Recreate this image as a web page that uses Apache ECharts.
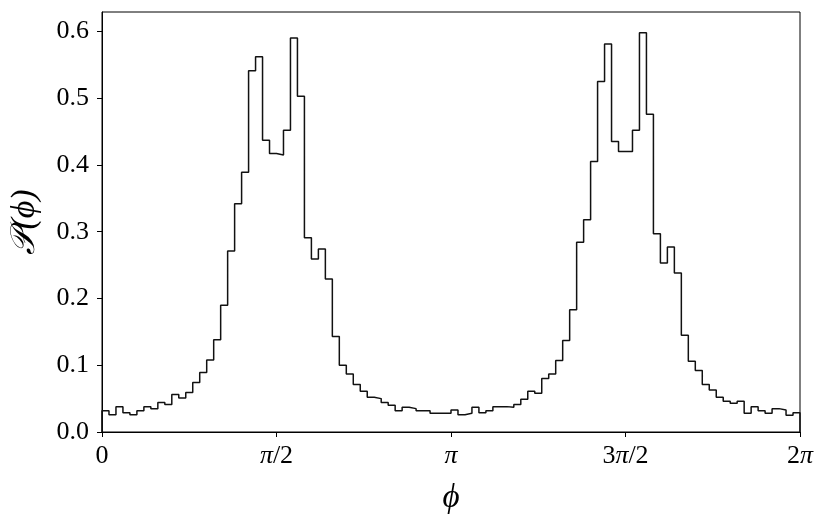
<!DOCTYPE html>
<html>
<head>
<meta charset="utf-8">
<script src="https://cdn.jsdelivr.net/npm/echarts@6/dist/echarts.min.js"></script>
<style>
  html, body { margin: 0; padding: 0; background: #fff; }
  #chart_phiHist { width: 827px; height: 523px; }
</style>
</head>
<body>
<div id="chart_phiHist"></div>
<script>
// histogram heights, 100 bins over [0, 2pi]
const binValues = [
  0.032, 0.026, 0.038, 0.029, 0.026, 0.032, 0.038, 0.035, 0.044, 0.041,
  0.056, 0.051, 0.059, 0.074, 0.089, 0.108, 0.138, 0.190, 0.271, 0.342,
  0.389, 0.541, 0.562, 0.437, 0.417, 0.415, 0.452, 0.590, 0.503, 0.291,
  0.259, 0.274, 0.229, 0.143, 0.100, 0.087, 0.071, 0.061, 0.052, 0.050,
  0.044, 0.040, 0.032, 0.037, 0.035, 0.032, 0.032, 0.028, 0.028, 0.028,
  0.033, 0.026, 0.028, 0.037, 0.029, 0.032, 0.038, 0.038, 0.037, 0.041,
  0.049, 0.061, 0.058, 0.080, 0.087, 0.107, 0.137, 0.183, 0.284, 0.318,
  0.405, 0.525, 0.581, 0.435, 0.420, 0.420, 0.452, 0.598, 0.476, 0.297,
  0.253, 0.277, 0.238, 0.145, 0.106, 0.092, 0.071, 0.063, 0.052, 0.046,
  0.043, 0.046, 0.028, 0.038, 0.032, 0.028, 0.035, 0.033, 0.025, 0.029
]
const xTicks = [0, Math.PI / 2, Math.PI, 3 * Math.PI / 2, 2 * Math.PI]
const xTickLabels = ['{n|0}', '{p|π}{n|/2}', '{p|π}', '{n|3}{p|π}{n|/2}', '{n|2}{p|π}']
const yTicks = [0, 0.1, 0.2, 0.3, 0.4, 0.5, 0.6]

const xMax = 2 * Math.PI
const yMax = 0.629
const binWidth = xMax / binValues.length

// step outline like matplotlib histtype='step'
let stepData = [[0, 0]]
binValues.forEach((v, i) => {
  stepData.push([i * binWidth, v])
})
stepData.push([xMax, binValues[binValues.length - 1]])
stepData.push([xMax, 0])

const serif = 'Liberation Serif'
const richTick = {
  n: { fontFamily: serif, fontSize: 26, color: '#000' },
  p: { fontFamily: serif, fontSize: 26, fontStyle: 'italic', color: '#000' }
}

let option = {
  animation: false,
  grid: {
    left: 102, right: 27, top: 12, bottom: 91,
    show: true, borderColor: '#000', borderWidth: 1, backgroundColor: 'transparent'
  },
  xAxis: {
    type: 'value',
    min: 0,
    max: xMax,
    name: 'ϕ',
    nameLocation: 'middle',
    nameGap: 50,
    nameTextStyle: { fontFamily: serif, fontStyle: 'italic', fontSize: 33, color: '#000' },
    axisLine: { show: true, onZero: false, lineStyle: { color: '#000', width: 1 } },
    axisTick: { show: true, length: 5, lineStyle: { color: '#000' }, customValues: xTicks },
    axisLabel: {
      margin: 11,
      customValues: xTicks,
      formatter: function (val) {
        let idx = xTicks.findIndex(t => Math.abs(t - val) < 1e-6)
        return idx >= 0 ? xTickLabels[idx] : ''
      },
      rich: richTick
    },
    splitLine: { show: false }
  },
  yAxis: {
    type: 'value',
    min: 0,
    max: yMax,
    name: '𝒫(ϕ)',
    nameLocation: 'middle',
    nameGap: 60,
    nameTextStyle: { fontFamily: serif, fontStyle: 'italic', fontSize: 34, color: '#000' },
    axisLine: { show: true, lineStyle: { color: '#000', width: 1 } },
    axisTick: { show: true, length: 5, lineStyle: { color: '#000' }, customValues: yTicks },
    axisLabel: {
      margin: 13,
      customValues: yTicks,
      fontFamily: serif,
      fontSize: 26,
      color: '#000',
      formatter: v => v.toFixed(1)
    },
    splitLine: { show: false }
  },
  series: [
    {
      type: 'line',
      step: 'end',
      data: stepData,
      showSymbol: false,
      lineStyle: { color: '#111', width: 1.5 },
      clip: false
    }
  ]
}

let chart_phiHist = echarts.init(document.getElementById('chart_phiHist'))
chart_phiHist.setOption(option)
</script>
</body>
</html>
